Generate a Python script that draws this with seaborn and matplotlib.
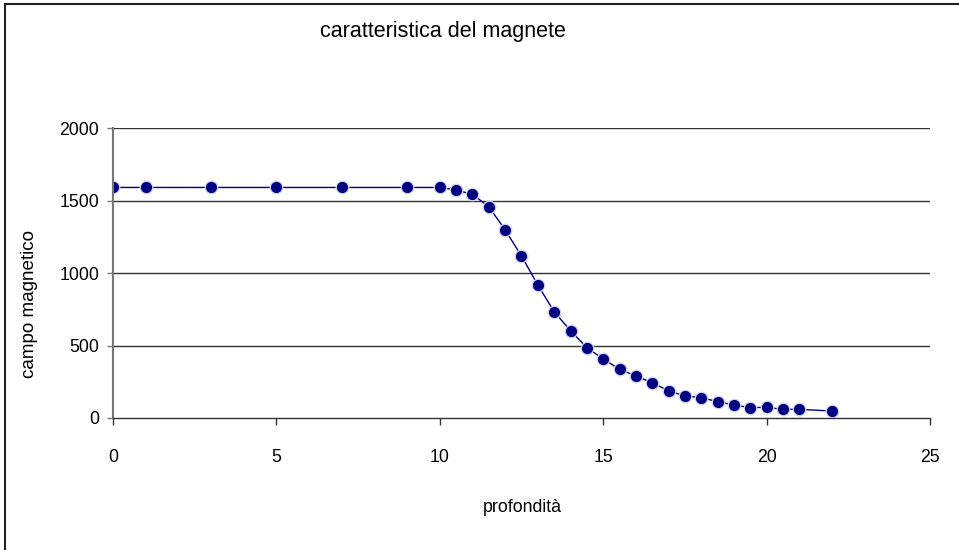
import matplotlib
matplotlib.use("Agg")
import matplotlib.pyplot as plt
import seaborn as sns
import pandas as pd
from matplotlib.patches import Rectangle

# depth (profondità) and measured magnetic field (campo magnetico)
profondita = [0, 1, 3, 5, 7, 9, 10, 10.5, 11, 11.5, 12, 12.5, 13, 13.5, 14, 14.5,
              15, 15.5, 16, 16.5, 17, 17.5, 18, 18.5, 19, 19.5, 20, 20.5, 21, 22]
campo = [1590, 1590, 1590, 1590, 1590, 1590, 1590, 1572, 1543, 1457, 1297, 1117,
         917, 733, 602, 485, 407, 336, 290, 243, 188, 152, 140, 113, 90, 71, 74,
         60, 60, 48]

x_ticks = [0, 5, 10, 15, 20, 25]
y_ticks = [0, 500, 1000, 1500, 2000]

df = pd.DataFrame({"profondita": profondita, "campo": campo})

sns.set_theme(style="white")
plt.rcParams["font.family"] = ["Liberation Sans", "DejaVu Sans"]
plt.rcParams["text.color"] = "black"
plt.rcParams["xtick.color"] = "black"
plt.rcParams["ytick.color"] = "black"

fig = plt.figure(figsize=(9.59, 5.5), dpi=100)
ax = fig.add_axes([113 / 959, 1 - 418 / 550, (930 - 113) / 959, (418 - 128) / 550])

navy = "#000080"
sns.lineplot(data=df, x="profondita", y="campo", ax=ax, color=navy, linewidth=1.0,
             marker="o", markersize=9, markerfacecolor=navy,
             markeredgecolor="#d8d8f0", markeredgewidth=0.9)

ax.set_xlim(0, 25)
ax.set_ylim(0, 2000)
ax.set_xticks(x_ticks)
ax.set_yticks(y_ticks)
ax.set_xticklabels([str(v) for v in x_ticks], fontsize=12.7)
ax.set_yticklabels([str(v) for v in y_ticks], fontsize=12.7)
ax.tick_params(axis="x", direction="out", length=5, width=1, color="#333333", pad=17)
ax.tick_params(axis="y", direction="out", length=4, width=1, color="#777777", pad=6)
ax.xaxis.set_ticks_position("bottom")
ax.yaxis.set_ticks_position("left")

for v in y_ticks[1:]:
    ax.axhline(v, color="#333333", linewidth=1.0, zorder=0)

ax.spines["top"].set_visible(False)
ax.spines["right"].set_visible(False)
ax.spines["left"].set_color("#777777")
ax.spines["left"].set_linewidth(1.5)
ax.spines["bottom"].set_color("#333333")
ax.spines["bottom"].set_linewidth(1.0)

ax.set_xlabel("")
ax.set_ylabel("")
fig.text(522 / 959, 1 - 508 / 550, "profondità", ha="center", va="center", fontsize=12.8)
fig.text(29.5 / 959, 1 - 303.5 / 550, "campo magnetico", ha="center", va="center",
         rotation=90, fontsize=13.6)
fig.text(442.5 / 959, 1 - 32 / 550, "caratteristica del magnete", ha="center",
         va="center", fontsize=15.5)

# chart-area border (extends past the right and bottom edges)
fig.patches.append(Rectangle((5 / 959, -0.05), 1.1, 1 - 4 / 550 + 0.05,
                             transform=fig.transFigure, fill=False,
                             edgecolor="#222222", linewidth=1.5))

fig.savefig("out.png", dpi=100)
